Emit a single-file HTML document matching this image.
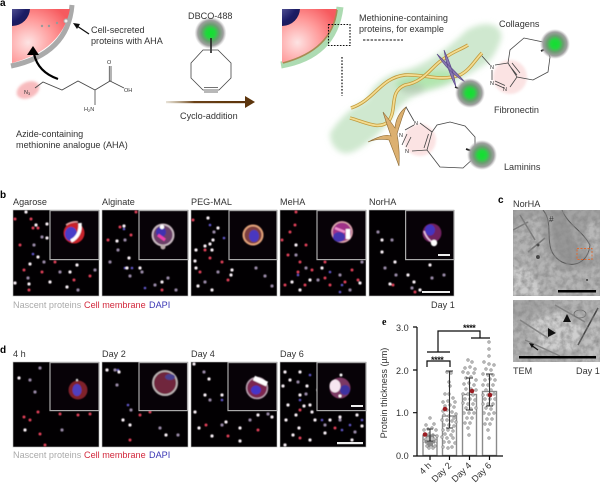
<!DOCTYPE html>
<html><head><meta charset="utf-8"><style>
html,body{margin:0;padding:0;background:#fff;width:600px;height:484px;overflow:hidden}
svg{display:block}
text{font-family:"Liberation Sans",sans-serif;font-size:9.1px;fill:#333}
.b{font-weight:bold;fill:#000;font-size:10px}
.m{font-size:5.5px;fill:#333}
.d{fill:none;stroke-linecap:round}
.l{fill:none;stroke:#444;stroke-width:.8}
</style></head><body>
<svg width="600" height="484" viewBox="0 0 600 484" xmlns="http://www.w3.org/2000/svg">
<defs>
<filter id="b3" x="-30%" y="-30%" width="160%" height="160%"><feGaussianBlur stdDeviation="3"/></filter>
<filter id="b1"><feGaussianBlur stdDeviation="1.2"/></filter>
<filter id="s" x="-5%" y="-5%" width="110%" height="110%"><feGaussianBlur stdDeviation=".35"/></filter>
<filter id="s2" x="-5%" y="-5%" width="110%" height="110%"><feGaussianBlur stdDeviation=".55"/></filter>
<filter id="n" x="0" y="0" width="100%" height="100%"><feTurbulence type="fractalNoise" baseFrequency=".18" numOctaves="3" seed="4"/><feColorMatrix values="0 0 0 0 .25 0 0 0 0 .25 0 0 0 0 .25 1.6 0 0 0 -.55"/></filter>
<radialGradient id="cg" cx="28%" cy="62%" r="80%"><stop offset="0" stop-color="#fde3e3"/><stop offset=".55" stop-color="#f99"/><stop offset="1" stop-color="#f65a5e"/></radialGradient>
<radialGradient id="nu" cx="30%" cy="30%" r="90%"><stop offset="0" stop-color="#7a7ab8"/><stop offset=".7" stop-color="#1d1d66"/><stop offset="1" stop-color="#16164f"/></radialGradient>
<radialGradient id="gl"><stop offset="0" stop-color="#10e030"/><stop offset=".28" stop-color="#22d83c"/><stop offset=".55" stop-color="#6c9c72"/><stop offset=".8" stop-color="#a0a0a0"/><stop offset="1" stop-color="#bbb" stop-opacity="0"/></radialGradient>
<linearGradient id="ar" gradientUnits="userSpaceOnUse" x1="166" y1="0" x2="247" y2="0"><stop offset="0" stop-color="#a08a60" stop-opacity=".25"/><stop offset=".35" stop-color="#6b4218"/><stop offset="1" stop-color="#5a3208"/></linearGradient>
<clipPath id="c1"><path d="M12 9H70Q62 50 12 63Z"/></clipPath>
<clipPath id="c2"><path d="M282 9H337Q332 50 282 63Z"/></clipPath>
<clipPath id="p1"><rect x="513" y="210" width="87" height="86"/></clipPath>
<clipPath id="p2"><rect x="513" y="300" width="87" height="62"/></clipPath>
<path id="ch" d="M430 418h0M426 425h0M434 424h0M424 430h0M428 429h0M432 428h0M436 430h0M425 435h0M429 434h0M433 435h0M437 436h0M426 439h0M430 439h0M434 439h0M424 441h0M428 443h0M432 442h0M436 441h0M427 446h0M431 445h0M435 446h0M429 448h0M433 448h0M447 372h0M451 373h0M449 382h0M450 386h0M445 394h0M449 394h0M453 398h0M443 402h0M448 401h0M455 402h0M445 406h0M450 405h0M454 407h0M443 411h0M447 410h0M452 412h0M456 414h0M444 415h0M449 416h0M454 418h0M442 420h0M447 420h0M452 421h0M456 422h0M444 425h0M449 425h0M454 426h0M443 430h0M448 430h0M453 431h0M445 434h0M451 435h0M442 437h0M447 438h0M453 438h0M444 442h0M449 442h0M455 443h0M443 447h0M448 448h0M452 447h0M468 360h0M472 362h0M465 368h0M470 367h0M475 369h0M463 372h0M468 373h0M474 373h0M466 378h0M471 377h0M476 380h0M464 384h0M469 383h0M474 385h0M466 389h0M471 389h0M476 390h0M463 394h0M468 394h0M473 395h0M465 399h0M470 399h0M475 400h0M463 403h0M468 404h0M473 404h0M466 408h0M471 409h0M476 408h0M464 413h0M469 413h0M474 413h0M467 418h0M472 418h0M465 423h0M470 423h0M468 428h0M469 435h0M489 342h0M489 349h0M489 356h0M484 362h0M489 364h0M494 365h0M486 369h0M491 370h0M483 374h0M488 375h0M493 375h0M485 380h0M490 379h0M495 380h0M483 385h0M488 385h0M493 385h0M486 390h0M491 390h0M483 395h0M488 395h0M494 394h0M485 399h0M490 399h0M495 399h0M483 404h0M488 404h0M493 404h0M486 408h0M491 409h0M484 413h0M489 414h0M494 413h0M487 419h0M492 419h0M485 424h0M490 424h0M488 430h0M489 438h0"/>
</defs>

<g filter="url(#s)">
<!-- a left cell -->
<path d="M11 66Q68 54 72 5" fill="none" stroke="#aaa" stroke-width="5"/>
<path d="M12 9H70Q62 50 12 63Z" fill="url(#cg)"/>
<circle cx="12" cy="8" r="18" fill="url(#nu)" clip-path="url(#c1)"/>
<path d="M42 26h0M49 26h0M57 23h0" class="d" stroke="#999" stroke-width="2.4"/>
<circle cx="66" cy="21" r="2" fill="#eee" stroke="#aaa"/>
<path d="M58 79Q38 72 34 54" fill="none" stroke="#000" stroke-width="2.2"/>
<path d="M33 46l-6 9h12z" fill="#000"/>
<path d="M89 34L77 26" stroke="#111" stroke-width="1.2"/>
<path d="M73 23l7 1-3 5z" fill="#111"/>
<ellipse cx="28" cy="90" rx="12" ry="8" fill="#f5a5a8" opacity=".75" filter="url(#b1)" transform="rotate(-25 28 90)"/>
<path class="l" d="M35 88L43 82 62 90 78 81 95 90 110 81 124 88M95 90V105M109.300 81V66M111 81V66"/>
</g>
<text class="m" x="24" y="94">N<tspan font-size="4" dy="1">3</tspan></text>
<text class="m" x="124" y="92">OH</text>
<text class="m" x="107" y="64">O</text>
<text class="m" x="84" y="111">H<tspan font-size="4" dy="1">2</tspan><tspan dy="-1">N</tspan></text>
<text class="b" x="0" y="6">a</text>
<text x="91" y="33">Cell-secreted</text>
<text x="91" y="44">proteins with AHA</text>
<text x="16" y="137">Azide-containing</text>
<text x="16" y="148">methionine analogue (AHA)</text>

<!-- DBCO -->
<g filter="url(#s)">
<circle cx="210.500" cy="33" r="16" fill="url(#gl)"/>
<path d="M211 38V53" stroke="#222" stroke-width="1.600"/>
<path class="l" stroke-width="1" d="M203 50H218L231 63V78L219 90H203L191 78V63Z"/>
<path class="l" d="M204 87.500H218M204 92H218"/>
<rect x="166" y="101" width="81" height="2.200" fill="url(#ar)"/>
<path d="M245 96l10 6-10 6z" fill="#5c3408"/>
</g>
<text x="188" y="19">DBCO-488</text>
<text x="180" y="119">Cyclo-addition</text>

<!-- a right -->
<g filter="url(#s)">
<path d="M281 65Q334 56 340 7" fill="none" stroke="#9fd5a5" stroke-width="7" opacity=".85"/>
<path d="M282 9H337Q332 50 282 63Z" fill="url(#cg)"/>
<path d="M283 63Q332 50 337 10" fill="none" stroke="#a78b52" stroke-width="1.600"/>
<circle cx="282" cy="8" r="18" fill="url(#nu)" clip-path="url(#c2)"/>
<path d="M328.500 24.500H350V45.500H328.500Z" fill="none" stroke="#111" stroke-width="1.100" stroke-dasharray="1.600 1.400"/>
<path d="M342 57V96" fill="none" stroke="#111" stroke-width="1.200" stroke-dasharray="1.600 1.600"/>
<path d="M363 40H403" fill="none" stroke="#111" stroke-width="1.100" stroke-dasharray="2.400 1.400"/>
<path d="M330 133Q345 110 367 100Q372 82 397 72Q430 66 467 30Q485 20 497 27Q504 34 500 42Q495 56 487 63Q465 78 443 87Q425 92 417 95Q405 100 397 110Q385 130 367 143Q352 155 343 153Q330 148 330 133Z" fill="#cfe8cf" filter="url(#b3)"/>
<ellipse cx="425" cy="80" rx="30" ry="8" fill="#9fe59a" opacity=".6" filter="url(#b3)" transform="rotate(-10 425 80)"/>
<ellipse cx="412" cy="88" rx="12" ry="6" fill="#aaa" opacity=".35" filter="url(#b3)"/>
<path d="M351 108C375 100 380 78 405 75C425 74 440 82 460 75C470 70 475 60 482 53" fill="none" stroke="#c09a3c" stroke-width="3.400"/>
<path d="M351 108C375 100 380 78 405 75C425 74 440 82 460 75C470 70 475 60 482 53" fill="none" stroke="#f4dc90" stroke-width="1.800"/>
<path d="M350 118C365 122 378 130 388 122C398 110 388 92 405 85C425 82 432 65 445 58C452 52 460 50 468 45" fill="none" stroke="#c09a3c" stroke-width="3.400"/>
<path d="M350 118C365 122 378 130 388 122C398 110 388 92 405 85C425 82 432 65 445 58C452 52 460 50 468 45" fill="none" stroke="#f4dc90" stroke-width="1.800"/>
<path d="M437 54Q448 72 465 82Q452 68 437 54ZM444 50Q447 70 456 87Q453 68 444 50Z" fill="#8878b0" stroke="#5d4a8c" stroke-width=".7"/>
<path d="M455 87L470 93" stroke="#222" stroke-width="1.600"/>
<circle cx="470" cy="93" r="15" fill="url(#gl)"/>
<path d="M368 142Q385 133 391 136Q386 122 383 112Q391 122 395 128Q396 115 406 107Q401 120 397 134Q400 150 399 166Q393 150 389 140Q378 138 368 142Z" fill="#dcb070" stroke="#8a6a36" stroke-width=".6"/>
<circle cx="510" cy="77" r="17" fill="#fadada" opacity=".75" filter="url(#b1)"/>
<circle cx="420" cy="140" r="16" fill="#fadada" opacity=".75" filter="url(#b1)"/>
<path class="l" stroke-width="1" d="M508 63L510 50 524 38 543 42 550 57 548 72 533 80 517 77ZM482 56L490 65M495 65L508 63M492 70V80M495 84L504 88M495 81L505 85.500M510 87L517 77M509 65L517 75M512 63L520 73M420 123L432 132L437 125 450 122 465 126 475 137 475 157 463 168 440 167 427 150M414 121L406 107M407 134L402 145M411 137L406 147M412 151L427 150M432 132L427 150M428.500 134L424 148M414 125L405 130"/>
<path d="M541 51L556 44" stroke="#222" stroke-width="1.800"/>
<circle cx="555" cy="44" r="15" fill="url(#gl)"/>
<path d="M466 149L484 155" stroke="#222" stroke-width="1.800"/>
<circle cx="482" cy="155" r="15" fill="url(#gl)"/>
</g>
<text class="m" x="490" y="69">N</text><text class="m" x="490" y="85">N</text><text class="m" x="503" y="91">N</text>
<text class="m" x="414" y="125">N</text><text class="m" x="399" y="137">N</text><text class="m" x="405" y="153">N</text>
<text x="359" y="21">Methionine-containing</text>
<text x="359" y="32">proteins, for example</text>
<text x="499" y="27">Collagens</text>
<text x="494" y="113">Fibronectin</text>
<text x="504" y="170">Laminins</text>

<!-- micrograph panels -->
<g fill="#020002" stroke="#bbb" stroke-width=".6">
<rect x="13" y="210" width="86" height="86"/><rect x="102" y="210" width="86" height="86"/><rect x="191" y="210" width="86" height="86"/><rect x="280" y="210" width="86" height="86"/><rect x="369" y="210" width="85" height="86"/>
<rect x="13" y="362" width="86" height="85"/><rect x="102" y="362" width="86" height="85"/><rect x="191" y="362" width="86" height="85"/><rect x="280" y="362" width="86" height="85"/>
</g>
<g filter="url(#s2)">
<path class="d" stroke="#9a8aa8" stroke-width="3.200" d="M34 245h0M42 237h0M28 278h0M44 262h0M60 272h0M78 290h0M95 270h0M118 250h0M125 240h0M130 276h0M142 272h0M155 285h0M168 278h0M176 290h0M110 262h0M205 282h0M218 272h0M265 276h0M272 286h0M256 268h0M214 232h0M296 255h0M306 268h0M318 280h0M340 275h0M350 290h0M362 262h0M378 232h0M392 240h0M385 268h0M412 288h0M432 278h0M396 275h0M444 275h0M30 380h0M40 368h0M62 430h0M35 392h0M117 385h0M131 410h0M160 428h0M178 435h0M115 370h0M210 400h0M222 425h0M250 420h0M268 414h0M204 372h0M298 382h0M306 394h0M325 425h0M340 420h0M355 432h0"/>
<path class="d" stroke="#e04058" stroke-width="3" d="M15 219h0M31 219h0M24 270h0M42 272h0M38 228h0M20 245h0M55 262h0M29 290h0M33 228h0M74 280h0M90 276h0M120 227h0M131 235h0M136 212h0M108 240h0M162 290h0M193 220h0M222 262h0M210 258h0M205 250h0M228 280h0M200 272h0M295 225h0M288 255h0M305 285h0M325 278h0M298 272h0M345 282h0M282 240h0M358 280h0M325 262h0M296 212h0M290 232h0M306 245h0M300 262h0M312 270h0M330 285h0M352 270h0M285 285h0M393 285h0M415 292h0M38 412h0M24 417h0M30 420h0M40 434h0M60 414h0M78 415h0M90 414h0M45 445h0M130 440h0M146 405h0M150 412h0M140 415h0M206 425h0M228 436h0M258 430h0M300 438h0M335 428h0M300 410h0"/>
<path class="d" stroke="#6458cc" stroke-width="2.600" d="M33 254h0M124 229h0M125 268h0M132 268h0M145 288h0M224 238h0M210 225h0M298 275h0M340 292h0M342 285h0M330 272h0M118 370h0M128 405h0M222 400h0M300 400h0M322 420h0M350 425h0M310 375h0M342 430h0M362 420h0"/>
<path class="d" stroke="#faf2f8" stroke-width="3.200" d="M30 264h0M29 284h0M15 283h0M50 282h0M67 287h0M70 272h0M77 265h0M47 238h0M47 224h0M26 212h0M36 225h0M38 257h0M117 241h0M129 258h0M124 226h0M127 268h0M162 282h0M140 268h0M196 250h0M195 261h0M205 246h0M212 250h0M198 286h0M212 290h0M232 270h0M196 268h0M210 244h0M231 275h0M218 228h0M208 218h0M213 240h0M300 290h0M310 280h0M292 282h0M322 268h0M360 283h0M296 245h0M382 240h0M390 284h0M414 282h0M430 265h0M382 252h0M395 262h0M420 290h0M408 275h0M19 378h0M25 430h0M152 365h0M107 370h0M119 372h0M123 420h0M130 425h0M166 435h0M195 412h0M199 428h0M209 379h0M222 395h0M205 395h0M226 422h0M240 428h0M258 415h0M272 417h0M212 436h0M194 364h0M240 441h0M285 372h0M283 386h0M288 405h0M300 372h0M307 386h0M320 370h0M318 390h0M299 428h0M315 420h0M286 420h0M304 406h0M340 417h0M357 415h0M293 435h0M285 445h0M310 440h0M325 433h0M352 440h0M362 426h0M310 405h0M296 415h0M300 395h0M290 380h0M312 412h0M330 420h0"/>
</g>
<!-- insets -->
<g fill="#070207" stroke="#aaa" stroke-width="1.200">
<rect x="50" y="210.600" width="49" height="49"/><rect x="139" y="210.600" width="49" height="49"/><rect x="229" y="210.600" width="48" height="49"/><rect x="317" y="210.600" width="49" height="49"/><rect x="405.600" y="210.600" width="48.400" height="49"/>
<rect x="50" y="362.600" width="49" height="48"/><rect x="139" y="362.600" width="48.500" height="48"/><rect x="228" y="362.600" width="49" height="48"/><rect x="317" y="362.600" width="49" height="48"/>
</g>
<g filter="url(#s2)">
<circle cx="74" cy="233" r="10.500" fill="#c8242c"/><ellipse cx="71" cy="234" rx="6" ry="7" fill="#4a3cc8"/><path d="M80 223Q81 236 71 241" fill="none" stroke="#fff" stroke-width="3.400"/><path d="M66 225Q72 221 78 222" fill="none" stroke="#e8a0a0" stroke-width="1.500"/>
<circle cx="163" cy="235" r="11" fill="#6a4068"/><circle cx="163" cy="235" r="10.500" fill="none" stroke="#c8b8c0" stroke-width="2"/><ellipse cx="161" cy="232" rx="5" ry="5" fill="#4030b0"/><circle cx="162" cy="227" r="2.200" fill="#fff"/><path d="M158 235L165 240" stroke="#f040b0" stroke-width="3"/><circle cx="163" cy="247" r="2.500" fill="#b8a8a8"/>
<circle cx="253" cy="235" r="10.500" fill="#7c3c40"/><circle cx="253" cy="235" r="9.500" fill="none" stroke="#e0a078" stroke-width="2"/><ellipse cx="254" cy="236" rx="5" ry="6" fill="#4838c0"/>
<circle cx="342" cy="232" r="11" fill="#a03088"/><circle cx="342" cy="232" r="10" fill="none" stroke="#d8a8a8" stroke-width="1.500"/><ellipse cx="339" cy="237" rx="6" ry="5" fill="#4434b0"/><path d="M348 229V239" stroke="#fff" stroke-width="4.500"/><path d="M335 228L345 232" stroke="#f090d0" stroke-width="2.500"/>
<circle cx="432" cy="233" r="9.500" fill="#702060"/><ellipse cx="430" cy="230" rx="5" ry="5.500" fill="#4434c0"/><path d="M424 231Q427 240 434 243" fill="none" stroke="#e8c0e0" stroke-width="1.500"/><circle cx="434" cy="243" r="3.200" fill="#fff"/>
<circle cx="78" cy="390" r="9.500" fill="#80202c"/><ellipse cx="77" cy="390" rx="4.500" ry="6" fill="#5040c0"/><circle cx="77" cy="380" r="1.200" fill="#ddd"/>
<circle cx="165" cy="383" r="12.500" fill="#70283c"/><circle cx="165" cy="383" r="12" fill="none" stroke="#b8b0b0" stroke-width="2"/><ellipse cx="170" cy="377" rx="5" ry="3" fill="#4a4090"/>
<circle cx="257" cy="388" r="11" fill="#7c2850"/><circle cx="257" cy="388" r="10.500" fill="none" stroke="#b8a0b0" stroke-width="1.500"/><ellipse cx="256" cy="390" rx="5" ry="4.500" fill="#4434c8"/><path d="M254 378L267 384" stroke="#fff" stroke-width="5"/>
<circle cx="340" cy="388" r="10.500" fill="#7c3864"/><ellipse cx="345" cy="390" rx="5" ry="5" fill="#3c30a0"/><ellipse cx="335" cy="386" rx="5.500" ry="6.500" fill="#f6e6f0"/><circle cx="341" cy="375" r="1.500" fill="#fff"/><circle cx="340" cy="396" r="1.500" fill="#fff"/>
</g>
<g fill="#eee"><rect x="438" y="254" width="12" height="2"/><rect x="422" y="291" width="28" height="2"/><rect x="351" y="405" width="12" height="2"/><rect x="337" y="442" width="26" height="2.200"/></g>

<text class="b" x="0" y="198">b</text>
<text x="13" y="205">Agarose</text><text x="102" y="205">Alginate</text><text x="191" y="205">PEG-MAL</text><text x="280" y="205">MeHA</text><text x="369" y="205">NorHA</text>
<text x="13" y="308" style="fill:#aaa">Nascent proteins</text><text x="84" y="308" style="fill:#d2283c">Cell membrane</text><text x="149" y="308" style="fill:#3a36b4">DAPI</text>
<text x="431" y="308">Day 1</text>
<text class="b" x="0" y="353">d</text>
<text x="13" y="357">4 h</text><text x="102" y="357">Day 2</text><text x="191" y="357">Day 4</text><text x="280" y="357">Day 6</text>
<text x="13" y="458" style="fill:#aaa">Nascent proteins</text><text x="84" y="458" style="fill:#d2283c">Cell membrane</text><text x="149" y="458" style="fill:#3a36b4">DAPI</text>

<!-- c -->
<text class="b" x="498" y="203">c</text>
<text x="513" y="207">NorHA</text>
<g clip-path="url(#p1)">
<rect x="513" y="210" width="87" height="86" fill="#a3a3a3"/>
<g filter="url(#b1)">
<path d="M513 225L540 215 545 250 560 270 590 270 600 260V296H513Z" fill="#b4b4b4"/>
<path d="M513 265L530 270 545 296H513Z" fill="#cbcbcb"/>
<path d="M553 210H560C572 218 570 250 590 262L566 265C550 250 552 225 553 210Z" fill="#979797"/>
<path d="M585 225L600 220V250L588 262Z" fill="#b8b8b8"/>
</g>
<path d="M543 210C556 225 540 250 562 262C575 268 588 262 590 245C582 230 568 225 562 210" fill="none" stroke="#555" stroke-width="1"/>
<path d="M520 215L535 240M528 252L545 238M513 230L528 222" fill="none" stroke="#777" stroke-width="1.500"/>
<circle cx="538" cy="257" r="2" fill="#444"/><circle cx="538" cy="245" r="1.500" fill="#333"/><circle cx="587" cy="280" r="1" fill="#222"/>
<rect x="513" y="210" width="87" height="86" filter="url(#n)"/>
<rect x="577" y="248.500" width="15" height="11" fill="none" stroke="#e06a30" stroke-width=".9" stroke-dasharray="2 1.500"/>
<rect x="558" y="290" width="38" height="2.500" fill="#000"/>
<text x="549" y="222" style="fill:#333;font-style:italic;font-size:8px">#</text>
</g>
<g clip-path="url(#p2)">
<rect x="513" y="300" width="87" height="62" fill="#b2b2b2"/>
<g filter="url(#b1)">
<path d="M530 322L560 312 585 330 575 350 540 350Z" fill="#cfcfcf"/>
<path d="M582 345L600 305V362H578Z" fill="#c0c0c0"/>
<path d="M513 300H560L540 312 513 322Z" fill="#a6a6a6"/>
</g>
<path d="M598 308L578 345" stroke="#444" stroke-width="1.500"/>
<path d="M520 320L548 338M555 305L585 322M525 340L560 356" stroke="#808080" stroke-width="1.500" fill="none"/>
<ellipse cx="580" cy="314" rx="6" ry="4" fill="none" stroke="#666" stroke-width=".8"/>
<rect x="513" y="300" width="87" height="62" filter="url(#n)"/>
<path d="M563 322l4-8 4 8ZM548 328l8 5-8 4Z" fill="#111"/>
<path d="M538 350L531 345" stroke="#111" stroke-width="1.200"/><path d="M529 343l5 1-2 4z" fill="#111"/>
<rect x="519" y="356" width="77" height="2.500" fill="#000"/>
</g>
<text x="513" y="374">TEM</text><text x="576" y="374">Day 1</text>

<!-- e -->
<text class="b" x="382" y="325" style="font-family:'Liberation Serif',serif">e</text>
<text x="396" y="331">3.0</text><text x="396" y="374">2.0</text><text x="396" y="416">1.0</text><text x="396" y="459">0.0</text>
<text transform="rotate(-90 387 393)" x="387" y="393" text-anchor="middle">Protein thickness (µm)</text>
<text transform="rotate(-45 432 466)" x="432" y="466" text-anchor="end">4 h</text>
<text transform="rotate(-45 452 466)" x="452" y="466" text-anchor="end">Day 2</text>
<text transform="rotate(-45 472 466)" x="472" y="466" text-anchor="end">Day 4</text>
<text transform="rotate(-45 492 466)" x="492" y="466" text-anchor="end">Day 6</text>
<g filter="url(#s)">
<g fill="#fff" stroke="#8a8a8a" stroke-width="1.400">
<rect x="423" y="435.500" width="14" height="20"/><rect x="442.500" y="416" width="14" height="39.500"/><rect x="462.500" y="394.500" width="14" height="61"/><rect x="482.500" y="391.500" width="14" height="64"/>
</g>
<use href="#ch" fill="none" stroke="#8a8a8a" stroke-width="3.200" stroke-linecap="round"/>
<use href="#ch" fill="none" stroke="#eeeeee" stroke-width="1.500" stroke-linecap="round"/>
<path d="M425 442H435M428 445H433M426 436H434" stroke="#8a8a8a" stroke-width="3" fill="none"/>
<path fill="none" stroke="#333" stroke-width="1.100" d="M430 429V441M427 429H433M427 441H433M449.500 371V428M446 371H453M446 428H453M469.500 378V410M466 378H473M466 410H473M489.500 374V406M486 374H493M486 406H493"/>
<g fill="#9a1c22"><circle cx="425" cy="434.500" r="2.300"/><circle cx="445" cy="409" r="2.300"/><circle cx="472" cy="391" r="2.300"/><circle cx="490" cy="395" r="2.300"/></g>
<path fill="none" stroke="#111" stroke-width="1.200" d="M417 327V456M413 327H417M413 370H417M413 412.700H417M413 456H503M430 456V460M449.500 456V460M469.500 456V460M489.500 456V460M438 352V331H480V338M471 338H490M427 352H450M427 367V361H450V367"/>
</g>
<text x="431" y="363" style="font-size:9px;fill:#111;font-weight:bold;letter-spacing:-.4px">****</text>
<text x="463" y="331" style="font-size:9px;fill:#111;font-weight:bold;letter-spacing:-.4px">****</text>
</svg>
</body></html>
